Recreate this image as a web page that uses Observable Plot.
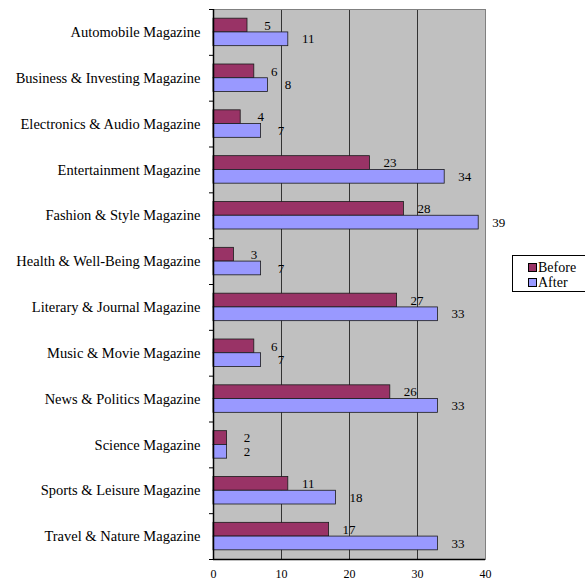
<!DOCTYPE html>
<html><head><meta charset="utf-8">
<script src="https://cdn.jsdelivr.net/npm/d3@7"></script>
<script src="https://cdn.jsdelivr.net/npm/@observablehq/plot@0.6"></script>
<style>
body{margin:0;background:#fff;overflow:hidden;}
#wrap{position:relative;width:585px;height:581px;font-family:"Liberation Serif",serif;}
#legend{position:absolute;left:512px;top:255px;width:75px;height:37px;border:1px solid #000;background:#fff;font-size:14px;line-height:15px;box-sizing:border-box;}
#legend div{position:absolute;left:15px;display:flex;align-items:center;height:15px;}
#legend span.sw{display:inline-block;width:7px;height:7px;border:1px solid #000;margin-right:1px;}
</style></head><body><div id="wrap"></div>
<script>
const categories = ["Automobile Magazine","Business & Investing Magazine","Electronics & Audio Magazine","Entertainment Magazine","Fashion & Style Magazine","Health & Well-Being Magazine","Literary & Journal Magazine","Music & Movie Magazine","News & Politics Magazine","Science Magazine","Sports & Leisure Magazine","Travel & Nature Magazine"];
const before = [5,6,4,23,28,3,27,6,26,2,11,17];
const after = [11,8,7,34,39,7,33,7,33,2,18,33];
const seriesNames = ["Before","After"];
const seriesColors = ["#993366","#9999FF"];
const xTicks = [0,10,20,30,40];

const rows = [];
categories.forEach((c,i)=>{
  rows.push({cat:c, series:"Before", value:before[i], y1:i+0.2, y2:i+0.5});
  rows.push({cat:c, series:"After", value:after[i], y1:i+0.5, y2:i+0.8});
});
const bounds = d3.range(0, categories.length+1);
const centers = categories.map((c,i)=>i+0.5);
const serif = "Liberation Serif";

const chart = Plot.plot({
  width:585, height:581,
  marginLeft:213, marginRight:100, marginTop:9, marginBottom:22,
  style:{fontFamily:serif, background:"#fff"},
  x:{domain:[0,40], label:null},
  y:{domain:[0,categories.length], reverse:true, label:null},
  color:{domain:seriesNames, range:seriesColors},
  marks:[
    Plot.frame({fill:"#C0C0C0"}),
    Plot.ruleX([10,20,30], {stroke:"#333", strokeWidth:1}),
    Plot.frame({stroke:"#808080", strokeWidth:1}),
    Plot.rectX(rows, {x1:0, x2:"value", y1:"y1", y2:"y2", fill:"series", stroke:"#1a1a1a", strokeWidth:0.8}),
    Plot.text(rows, {x:"value", y:d=>(d.y1+d.y2)/2, text:d=>String(d.value), dx:20, fontSize:13, fill:"#000", fontFamily:serif}),
    Plot.ruleX([0], {stroke:"#000", strokeWidth:1.5}),
    Plot.ruleY([categories.length], {stroke:"#000", strokeWidth:1.5}),
    Plot.axisY(bounds, {tickSize:4, tickFormat:()=>"", stroke:"#000", label:null}),
    Plot.axisY(centers, {tickSize:0, tickPadding:13, fontSize:14.5, fill:"#000", fontFamily:serif, label:null, tickFormat:v=>categories[Math.round(v-0.5)]}),
    Plot.axisX(xTicks, {tickSize:0, tickPadding:10, fontSize:12, fill:"#000", fontFamily:serif, label:null})
  ]
});
const wrap = document.getElementById("wrap");
wrap.appendChild(chart);
const legend = document.createElement("div");
legend.id = "legend";
seriesNames.forEach((s,i)=>{
  const row = document.createElement("div");
  row.style.top = (i===0 ? 4 : 19) + "px";
  row.innerHTML = `<span class="sw" style="background:${seriesColors[i]}"></span>${s}`;
  legend.appendChild(row);
});
wrap.appendChild(legend);
</script>
</body></html>
